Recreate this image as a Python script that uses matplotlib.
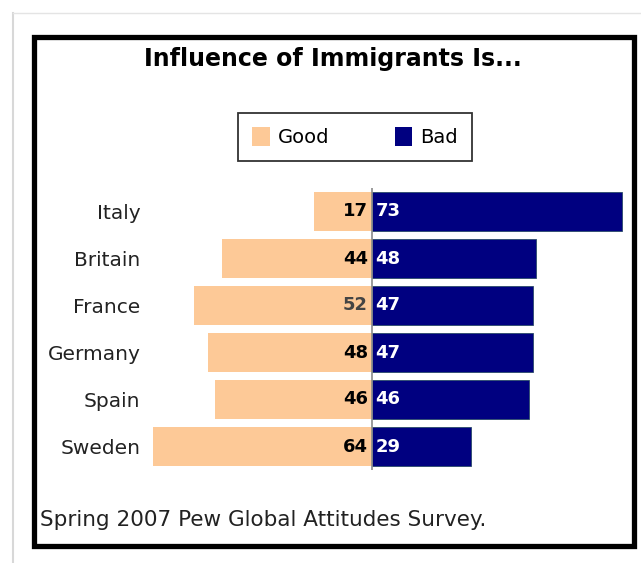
import matplotlib.pyplot as plt
from matplotlib.patches import Rectangle, Patch
from matplotlib.lines import Line2D

countries = ["Italy", "Britain", "France", "Germany", "Spain", "Sweden"]
good = [17, 44, 52, 48, 46, 64]
bad = [73, 48, 47, 47, 46, 29]

good_color = "#fdc997"
bad_color = "#000080"

W, H = 641, 563
fig = plt.figure(figsize=(W / 100, H / 100), dpi=100)


def fx(px):
    return px / W


def fy(py):
    return 1 - py / H


# light gray page edge
fig.add_artist(Line2D([fx(13), fx(13)], [fy(13), 0], color="#d8d8d8", lw=1.5))
fig.add_artist(Line2D([fx(13), 1], [fy(13), fy(13)], color="#e4e4e4", lw=1.0))

# thick black frame
fig.add_artist(Rectangle((fx(34), fy(546)), fx(600), 509 / H, fill=False,
                         edgecolor="black", lw=3.8, transform=fig.transFigure))

# axes: 0 sits at x=372px, 3.42 px per point
left_px, right_px = 150, 630
scale = 3.42
ax = fig.add_axes([fx(left_px), fy(470), fx(right_px - left_px), (470 - 188) / H])
ax.set_xlim(-(372 - left_px) / scale, (right_px - 372) / scale)
ax.set_ylim(len(countries) - 0.5, -0.5)

ys = list(range(len(countries)))
neg_good = [-g for g in good]
ax.barh(ys, neg_good, height=0.84, color=good_color, edgecolor="none")
ax.barh(ys, bad, height=0.84, color=bad_color, edgecolor="#2a4a6a", lw=0.6)
ax.axvline(0, color="#8a8a8a", lw=1.2, ymin=-0.01, ymax=1.01)

for y, g, b in zip(ys, good, bad):
    gcol = "#444444" if countries[y] == "France" else "black"
    ax.text(-1.2, y, str(g), ha="right", va="center", fontsize=13,
            fontweight="bold", color=gcol)
    ax.text(1.0, y, str(b), ha="left", va="center", fontsize=13,
            fontweight="bold", color="white")

ax.set_yticks(ys)
ax.set_yticklabels(countries, fontsize=14.5, color="#222222")
ax.tick_params(axis="y", length=0, pad=7)
ax.set_xticks([])
for s in ax.spines.values():
    s.set_visible(False)

fig.text(fx(333), fy(59), "Influence of Immigrants Is...", ha="center", va="center",
         fontsize=17, fontweight="bold")

handles = [Patch(facecolor=good_color, edgecolor="none", label="Good"),
           Patch(facecolor=bad_color, edgecolor="none", label="Bad")]
leg = fig.legend(handles=handles, loc="center", bbox_to_anchor=(fx(355), fy(137)),
                 ncol=2, frameon=True, fancybox=False, edgecolor="black",
                 fontsize=14, handlelength=0.9, handleheight=1.1, handletextpad=0.4,
                 columnspacing=3.4, borderpad=0.7, borderaxespad=0)
leg.get_frame().set_linewidth(1.3)

fig.text(fx(40), fy(520), "Spring 2007 Pew Global Attitudes Survey.", ha="left",
         va="center", fontsize=15.5, color="#222222")

fig.savefig("out.png", dpi=100)
